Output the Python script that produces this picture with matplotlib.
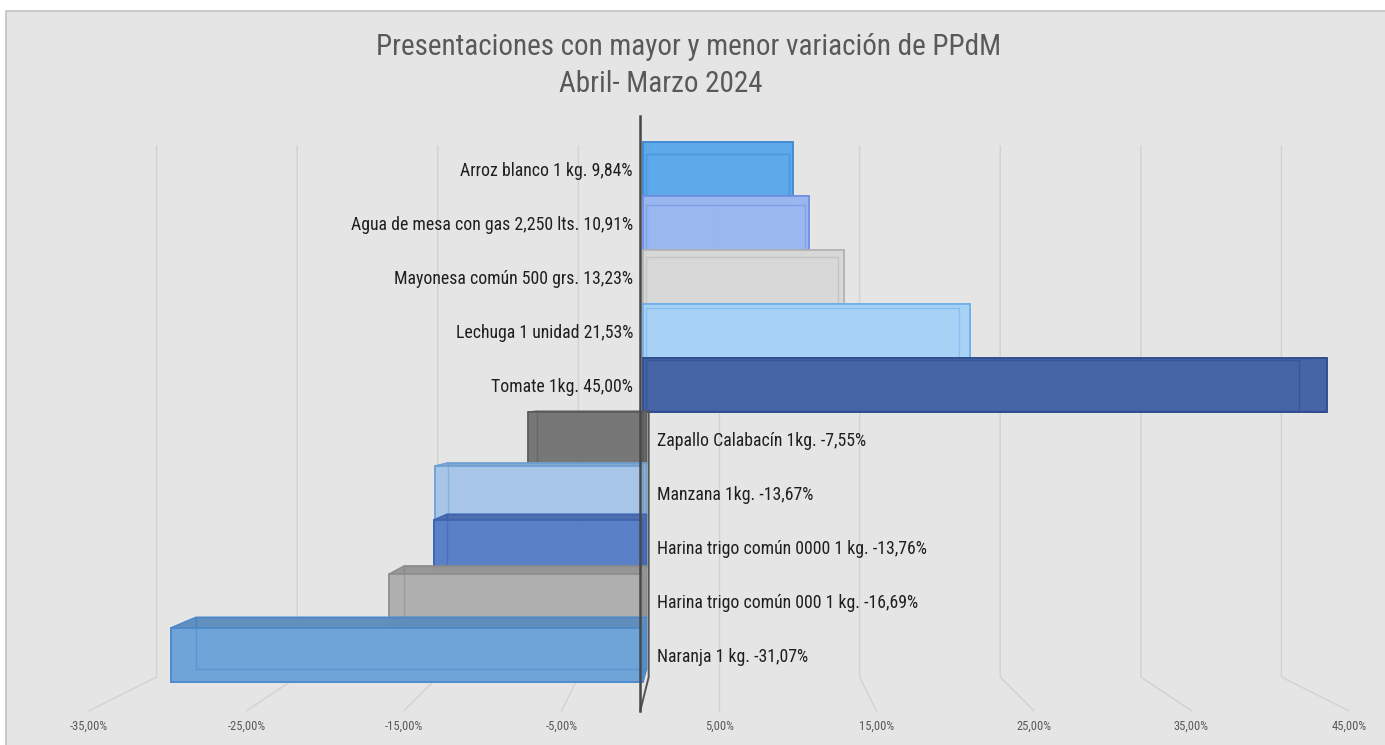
import matplotlib
matplotlib.use("Agg")
import matplotlib.pyplot as plt
from matplotlib.patches import Polygon, Rectangle
from matplotlib.colors import to_rgb
from matplotlib import font_manager

# ---------------- data ----------------
categories = ["Arroz blanco 1 kg.", "Agua de mesa con gas 2,250 lts.",
              "Mayonesa común 500 grs.", "Lechuga 1 unidad", "Tomate 1kg.",
              "Zapallo Calabacín 1kg.", "Manzana 1kg.",
              "Harina trigo común 0000 1 kg.", "Harina trigo común 000 1 kg.",
              "Naranja 1 kg."]
values = [9.84, 10.91, 13.23, 21.53, 45.00, -7.55, -13.67, -13.76, -16.69, -31.07]
value_labels = ["9,84%", "10,91%", "13,23%", "21,53%", "45,00%",
                "-7,55%", "-13,67%", "-13,76%", "-16,69%", "-31,07%"]
face_colors = ["#5eaaec", "#9bb8f2", "#dadada", "#a8d4f8", "#4565a7",
               "#777777", "#a8c8e9", "#5a80c9", "#b0b0b0", "#6ea5d9"]
edge_colors = ["#3d86cf", "#6c8fe0", "#b2b2b2", "#6eaeea", "#2e4b8c",
               "#5c5c5c", "#6c9fd4", "#3b63b3", "#8c8c8c", "#4a88cb"]
tick_values = [-35, -25, -15, -5, 5, 15, 25, 35, 45]
tick_labels = ["-35,00%", "-25,00%", "-15,00%", "-5,00%", "5,00%",
               "15,00%", "25,00%", "35,00%", "45,00%"]
title_line1 = "Presentaciones con mayor y menor variación de PPdM"
title_line2 = "Abril- Marzo 2024"

# ---------------- font choice (narrow if available) ----------------
names = {f.name for f in font_manager.fontManager.ttflist}
narrow = [n for n in ["Liberation Sans Narrow", "Arial Narrow", "Roboto Condensed",
                      "Open Sans Condensed", "DejaVu Sans Condensed"] if n in names]
FONT = (narrow[:1] or ["Liberation Sans"]) + ["DejaVu Sans"]
STRETCH = "normal" if narrow else "condensed"

# ---------------- 3D-look geometry (perspective) ----------------
XV, YV = 5.0, 0.3          # vanishing point (data units)
S_BAR_BACK = 0.954         # depth scale of the bars' back faces
S_WALL = 0.925             # depth scale of the back wall
S_FRONT = 1.036            # depth scale of the front floor edge / axis
WALL_TOP, FLOOR = 5.3, -5.33


def proj(x, y, s):
    return (XV + s * (x - XV), YV + s * (y - YV))


def darker(c, f=0.86):
    r, g, b = to_rgb(c)
    return (r * f, g * f, b * f)


W, H = 1385, 745
fig = plt.figure(figsize=(W / 100, H / 100), dpi=100)
fig.patch.set_facecolor("white")

bg = fig.add_axes([0, 0, 1, 1], zorder=0)
bg.set_xlim(0, W)
bg.set_ylim(H, 0)
bg.axis("off")
bg.add_patch(Rectangle((6, 11), W + 10, H + 10, facecolor="#e5e5e5",
                       edgecolor="#c3c3c3", linewidth=1.2))

ax = fig.add_axes([0, 0, 1, 1], zorder=1)
ax.set_xlim(-643 / 15.2, (W - 643) / 15.2)
ax.set_ylim((412 - H) / 54, 412 / 54)
ax.axis("off")
ax.patch.set_alpha(0)

# gridlines: back wall + floor
for v in tick_values:
    bt = proj(v, WALL_TOP, S_WALL)
    bb = proj(v, FLOOR, S_WALL)
    fr = proj(v, FLOOR, S_FRONT)
    ax.plot([bt[0], bb[0], fr[0]], [bt[1], bb[1], fr[1]], color="#d2d2d2",
            lw=1.0, zorder=1)
# zero gridline on the back wall (dark)
bt = proj(0, WALL_TOP, S_WALL)
bm = proj(0, 0, S_WALL)
bb = proj(0, FLOOR, S_WALL)
fr = proj(0, FLOOR, S_FRONT)
ax.plot([bt[0], bm[0]], [bt[1], bm[1]], color="#555555", lw=1.4, zorder=1)
ax.plot([bm[0], bb[0], fr[0]], [bm[1], bb[1], fr[1]], color="#555555",
        lw=1.4, zorder=20)

# bars
n = len(values)
centers = [n / 2 - 0.5 - i for i in range(n)]
for i, (v, yc) in enumerate(zip(values, centers)):
    z = 3 + i * 0.1
    fc, ec = face_colors[i], edge_colors[i]
    y0, y1 = yc - 0.5, yc + 0.5
    F = [(0, y0), (v, y0), (v, y1), (0, y1)]
    B = [proj(x, y, S_BAR_BACK) for x, y in F]
    faces = [
        [F[0], F[1], B[1], B[0]],   # bottom face
        [F[3], F[2], B[2], B[3]],   # top face
        [F[1], F[2], B[2], B[1]],   # end face
        [F[0], F[3], B[3], B[0]],   # start face
        B,                          # back face
    ]
    for pts in faces:
        ax.add_patch(Polygon(pts, closed=True, facecolor=darker(fc),
                             edgecolor=ec, lw=1.0, alpha=0.85, zorder=z))
    ax.barh(yc, v, height=1.0, left=0, color=fc, edgecolor=ec, linewidth=1.3,
            alpha=0.94, zorder=z + 0.03)
    bx = [p[0] for p in B] + [B[0][0]]
    by = [p[1] for p in B] + [B[0][1]]
    ax.plot(bx, by, color=ec, lw=1.0, alpha=0.5, zorder=z + 0.05)

# category labels
for i, (v, yc) in enumerate(zip(values, centers)):
    txt = f"{categories[i]} {value_labels[i]}"
    if v >= 0:
        ax.text(-0.66, yc - 0.03, txt, ha="right", va="center", fontsize=12.8,
                color="#1e1e1e", family=FONT, fontstretch=STRETCH, zorder=30)
    else:
        ax.text(0.92, yc - 0.03, txt, ha="left", va="center", fontsize=12.8,
                color="#1e1e1e", family=FONT, fontstretch=STRETCH, zorder=30)

# front axis line
at = proj(0, WALL_TOP, S_FRONT)
ab = proj(0, FLOOR, S_FRONT)
ax.plot([at[0], ab[0]], [at[1], ab[1]], color="#474747", lw=1.8, zorder=25)

# tick labels on front floor edge
for v, lab in zip(tick_values, tick_labels):
    x, _ = proj(v, FLOOR, S_FRONT)
    ax.text(x, (412 - 726) / 54, lab, ha="center", va="center", fontsize=9,
            color="#595959", family=FONT, fontstretch=STRETCH, zorder=30)

# title
fig.text(689 / W, 1 - 47 / H, title_line1, ha="center", va="center",
         fontsize=21, color="#595959", family=FONT, fontstretch=STRETCH, zorder=5)
fig.text(661 / W, 1 - 84 / H, title_line2, ha="center", va="center",
         fontsize=21, color="#595959", family=FONT, fontstretch=STRETCH, zorder=5)

fig.savefig("out.png", dpi=100, facecolor="white")
